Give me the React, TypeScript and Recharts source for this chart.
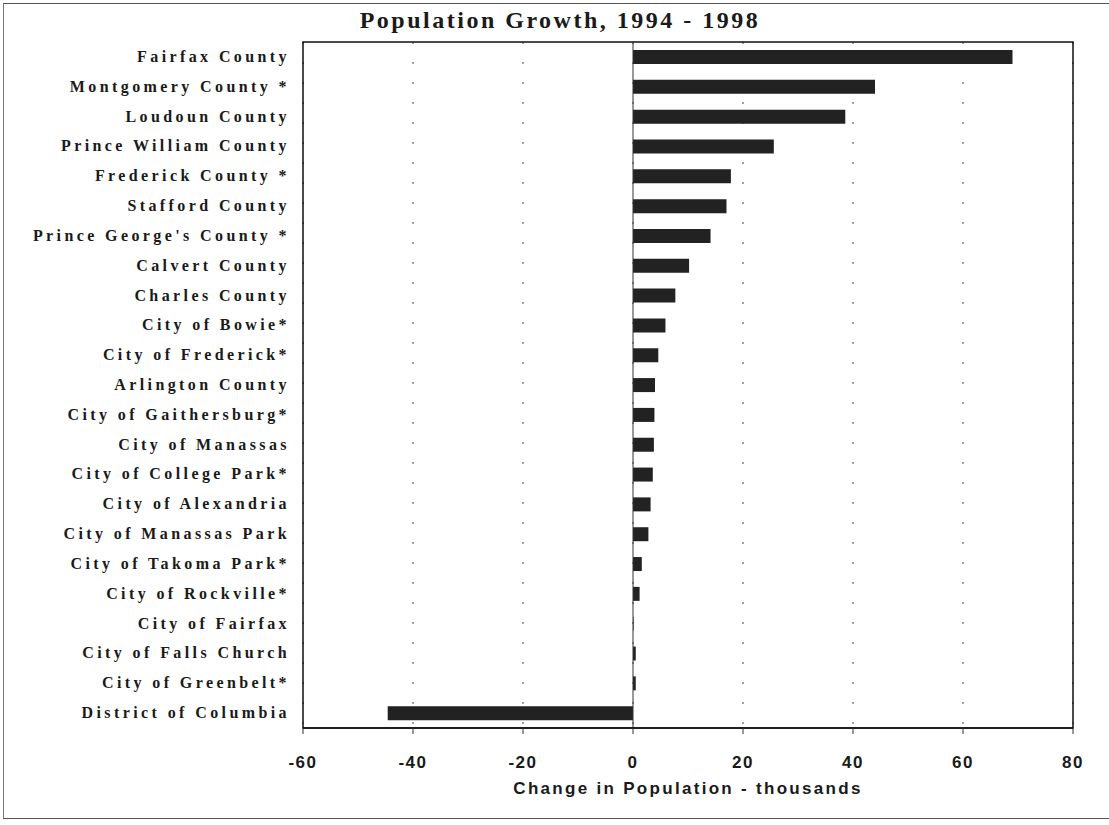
import React from 'react'
import {
  BarChart,
  Bar,
  XAxis,
  YAxis,
  CartesianGrid,
  ReferenceLine,
  ReferenceArea,
} from 'recharts'

// Jurisdictions, top to bottom
const CATEGORIES = [
  'Fairfax County',
  'Montgomery County *',
  'Loudoun County',
  'Prince William County',
  'Frederick County *',
  'Stafford County',
  "Prince George's County *",
  'Calvert County',
  'Charles County',
  'City of Bowie*',
  'City of Frederick*',
  'Arlington County',
  'City of Gaithersburg*',
  'City of Manassas',
  'City of College Park*',
  'City of Alexandria',
  'City of Manassas Park',
  'City of Takoma Park*',
  'City of Rockville*',
  'City of Fairfax',
  'City of Falls Church',
  'City of Greenbelt*',
  'District of Columbia',
]

// Change in population, thousands
const CHANGE = [
  69.0, 44.0, 38.6, 25.6, 17.8, 17.0, 14.1, 10.2, 7.7, 5.9, 4.6, 4.0, 3.9, 3.8,
  3.6, 3.2, 2.8, 1.6, 1.2, 0.1, 0.5, 0.5, -44.6,
]

const X_TICKS = [-60, -40, -20, 0, 20, 40, 60, 80]

const data = CATEGORIES.map((name, i) => ({ name, value: CHANGE[i] }))

const SERIF = "'Liberation Serif', 'Times New Roman', serif"
const SANS = "'Liberation Sans', Arial, sans-serif"
const NARROW = "'Liberation Sans Narrow', 'Liberation Sans', Arial, sans-serif"

function CategoryTick(props: any) {
  const { x, y, payload } = props
  return (
    <text
      x={x}
      y={y}
      dy={5}
      textAnchor="end"
      fill="#1a1a1a"
      style={{ fontFamily: SERIF, fontSize: 16, fontWeight: 700, letterSpacing: 3.4 }}
    >
      {payload.value}
    </text>
  )
}

function ValueTick(props: any) {
  const { x, y, payload } = props
  return (
    <text
      x={x}
      y={y}
      dy={17}
      textAnchor="middle"
      fill="#1a1a1a"
      style={{ fontFamily: SANS, fontSize: 17, fontWeight: 700, letterSpacing: 1.5 }}
    >
      {payload.value}
    </text>
  )
}

export default function App() {
  return (
    <div
      style={{
        position: 'absolute',
        left: 0,
        top: 0,
        width: 1109,
        height: 825,
        background: '#fff',
      }}
    >
      {/* scanned page frame */}
      <div
        style={{
          position: 'absolute',
          left: 3,
          top: 3,
          width: 1120,
          height: 814,
          borderTop: '1.5px solid #555',
          borderLeft: '1.5px solid #777',
          borderBottom: '1.5px solid #555',
        }}
      />
      <div
        style={{
          position: 'absolute',
          left: 0,
          top: 7,
          width: 1120,
          textAlign: 'center',
          fontFamily: SERIF,
          fontSize: 24,
          fontWeight: 700,
          letterSpacing: 2.5,
          color: '#1a1a1a',
        }}
      >
        Population Growth, 1994 - 1998
      </div>
      <BarChart
        layout="vertical"
        width={1109}
        height={825}
        data={data}
        margin={{ top: 42, right: 36, left: 8, bottom: 27 }}
        barCategoryGap={8}
      >
        <CartesianGrid
          horizontal={false}
          stroke="#444"
          strokeDasharray="2 18"
        />
        <XAxis
          type="number"
          domain={[-60, 80]}
          ticks={X_TICKS}
          height={70}
          axisLine={{ stroke: '#111', strokeWidth: 1.5 }}
          tickLine={{ stroke: '#333' }}
          tickSize={6}
          tickMargin={17}
          tick={<ValueTick />}
          label={{
            value: 'Change in Population - thousands',
            position: 'insideBottom',
            offset: 4,
            style: {
              fontFamily: NARROW,
              fontSize: 17,
              fontWeight: 700,
              letterSpacing: 2.3,
              fill: '#1a1a1a',
            },
          }}
        />
        <YAxis
          type="category"
          dataKey="name"
          width={295}
          axisLine={false}
          tickLine={false}
          tickSize={0}
          tickMargin={13}
          interval={0}
          tick={<CategoryTick />}
        />
        <ReferenceArea
          x1={-60}
          x2={80}
          fill="none"
          stroke="#111"
          strokeWidth={1.5}
          ifOverflow="visible"
        />
        <ReferenceLine x={0} stroke="#333" strokeWidth={1} />
        <Bar
          dataKey="value"
          fill="#222"
          barSize={14}
          isAnimationActive={false}
        />
      </BarChart>
    </div>
  )
}
